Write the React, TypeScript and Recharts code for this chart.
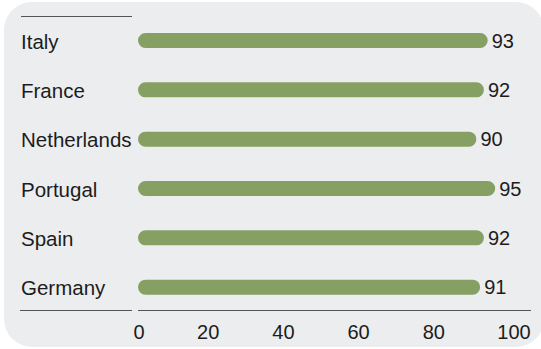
import React from "react";
import { BarChart, Bar, XAxis, YAxis, LabelList } from "recharts";

const countries = ["Italy", "France", "Netherlands", "Portugal", "Spain", "Germany"];
const scores = [93, 92, 90, 95, 92, 91];
const xTicks = [0, 20, 40, 60, 80, 100];

const data = countries.map((country, i) => ({ country, score: scores[i] }));

const FONT = '"Liberation Sans", Arial, Helvetica, sans-serif';
const TEXT = "#1c1c1c";
const LINE = "#555";

const CountryTick = (props: any) => {
    const { y, payload } = props;
    return (
        <text x={21} y={y} dy={8} textAnchor="start" fill={TEXT} fontSize={20.5} fontFamily={FONT}>
            {payload.value}
        </text>
    );
};

const ValueTick = (props: any) => {
    const { x, y, payload } = props;
    // inner labels sit a bit left of their gridline in the original
    const shift = payload.value === 0 ? 1 : payload.value === 100 ? 0 : -5;
    return (
        <text x={x + shift} y={y} dy={27} textAnchor="middle" fill={TEXT} fontSize={20} fontFamily={FONT}>
            {payload.value}
        </text>
    );
};

const hLine = (left: number, top: number, width: number) => (
    <div
        style={{
            position: "absolute",
            left,
            top,
            width,
            height: 1.4,
            background: LINE,
        }}
    />
);

export default function App() {
    return (
        <div style={{ position: "absolute", left: 0, top: 0, width: 541, height: 349, background: "#fff" }}>
            <div
                style={{
                    position: "absolute",
                    left: 4,
                    top: 2,
                    width: 540,
                    height: 345,
                    borderRadius: 28,
                    background: "#ecedef",
                }}
            />
            <div style={{ position: "absolute", left: 0, top: 0 }}>
                <BarChart
                    width={541}
                    height={349}
                    data={data}
                    layout="vertical"
                    margin={{ top: 16, right: 27, bottom: 1, left: 0 }}
                >
                    <XAxis
                        type="number"
                        domain={[0, 100]}
                        ticks={xTicks}
                        interval={0}
                        axisLine={false}
                        tickLine={false}
                        tickSize={0}
                        tickMargin={0}
                        height={36}
                        tick={<ValueTick />}
                    />
                    <YAxis
                        type="category"
                        dataKey="country"
                        width={138}
                        axisLine={false}
                        tickLine={false}
                        tick={<CountryTick />}
                    />
                    <Bar
                        dataKey="score"
                        fill="#86a063"
                        barSize={15}
                        radius={7.5}
                        isAnimationActive={false}
                    >
                        <LabelList
                            dataKey="score"
                            position="right"
                            offset={4}
                            fill={TEXT}
                            fontSize={20}
                            fontFamily={FONT}
                        />
                    </Bar>
                </BarChart>
            </div>
            {hLine(21, 16, 111)}
            {hLine(20, 310, 112)}
            {hLine(138, 310, 393)}
        </div>
    );
}
